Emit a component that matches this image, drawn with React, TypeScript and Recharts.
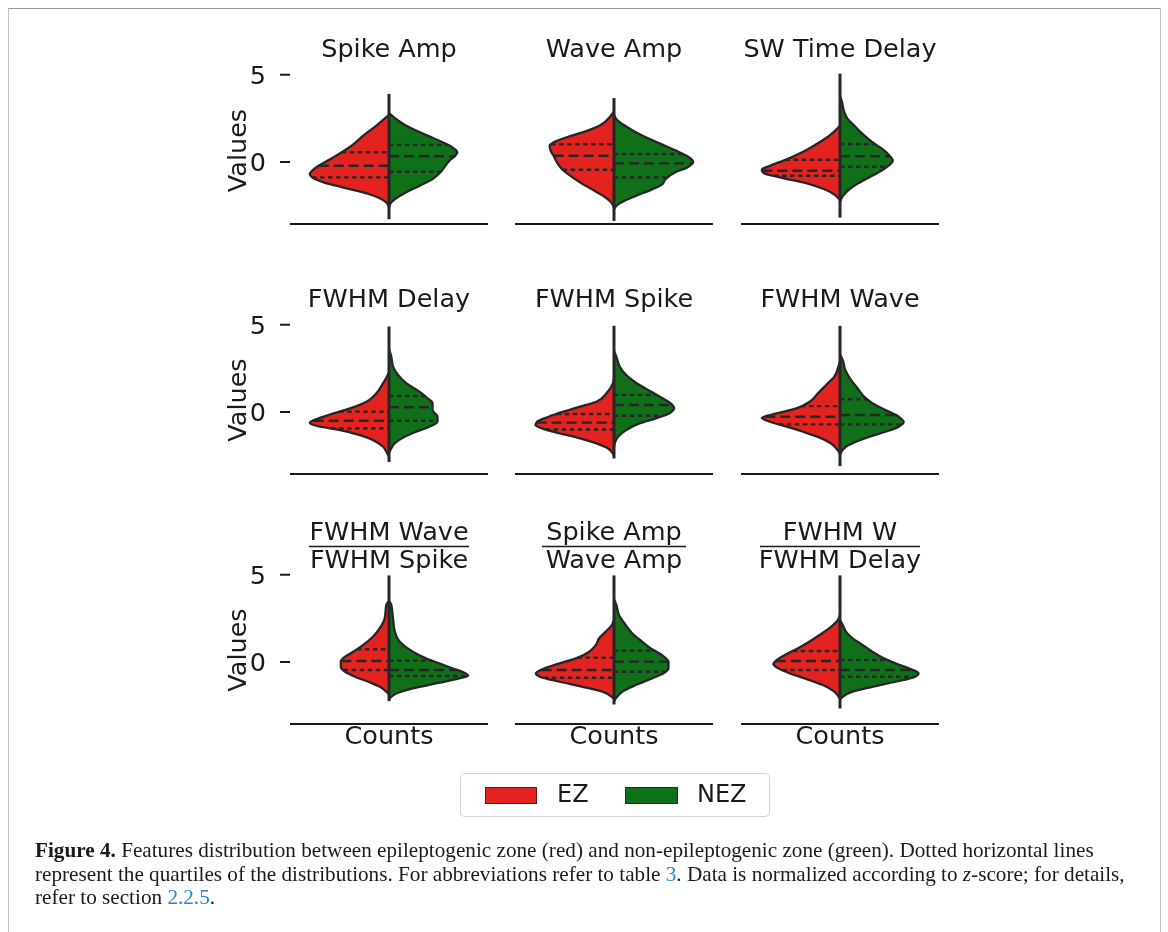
import { useMemo } from "react";
import { ComposedChart, Area, XAxis, YAxis, ReferenceLine } from "recharts";

// [value (z-score), half width of the violin], top to bottom
type Pt = [number, number];

const EZ_COLOR = "#e32320";
const NEZ_COLOR = "#10701a";
const EDGE = "#262626";
const INK = "#1a1a1a";
const FONT = 25.5;

const titleTop = ["Spike Amp", "Wave Amp", "SW Time Delay", "FWHM Delay", "FWHM Spike", "FWHM Wave", "FWHM Wave", "Spike Amp", "FWHM W"];
const titleBottom = ["", "", "", "", "", "", "FWHM Spike", "Wave Amp", "FWHM Delay"];

const spikeAmpEZ: Pt[] = [[2.7, 0], [2.09, 12.7], [1.51, 26], [0.94, 37.7], [0.56, 47.7], [0.17, 59], [-0.21, 71], [-0.5, 77.7], [-0.69, 80], [-0.88, 77.7], [-1.17, 66], [-1.46, 46], [-1.74, 26], [-2.03, 11], [-2.32, 2.7], [-2.6, 0]];
const spikeAmpNEZ: Pt[] = [[2.8, 0], [2.47, 7], [2.09, 17], [1.51, 39], [1.13, 54], [0.84, 64], [0.56, 69], [0.36, 67], [0.08, 61], [-0.21, 57], [-0.59, 52], [-0.98, 44], [-1.36, 31], [-1.74, 17], [-2.13, 6], [-2.41, 1], [-2.6, 0]];
const waveAmpEZ: Pt[] = [[2.9, 0], [2.66, 3], [2.09, 14.3], [1.71, 31], [1.42, 47.7], [1.13, 61], [0.94, 65], [0.65, 64], [0.36, 61], [-0.02, 57.7], [-0.4, 52.7], [-0.79, 44], [-1.17, 34], [-1.55, 22.7], [-1.94, 11], [-2.32, 2.7], [-2.6, 0]];
const waveAmpNEZ: Pt[] = [[2.7, 0], [2.47, 2.3], [2.09, 10.7], [1.71, 22], [1.32, 36], [0.94, 51], [0.56, 66], [0.27, 76], [-0.02, 80], [-0.31, 74], [-0.59, 62], [-0.98, 52], [-1.26, 49], [-1.55, 39], [-1.94, 22], [-2.22, 10.7], [-2.51, 2.3], [-2.7, 0]];
const swDelayEZ: Pt[] = [[2.1, 0], [1.9, 3], [1.51, 10.7], [1.13, 20.7], [0.75, 32], [0.36, 45.7], [0.08, 57], [-0.21, 70.7], [-0.44, 79], [-0.63, 77], [-0.88, 60.7], [-1.17, 37], [-1.46, 20.7], [-1.74, 9], [-2.03, 2.3], [-2.2, 0]];
const swDelayNEZ: Pt[] = [[3.8, 0], [3.43, 2], [2.85, 4.3], [2.47, 7.7], [2.09, 14.3], [1.61, 22.7], [1.13, 32.7], [0.75, 42.7], [0.36, 50], [0.08, 53.3], [-0.21, 49], [-0.59, 39], [-0.98, 26], [-1.36, 14.3], [-1.74, 6], [-2.13, 1], [-2.3, 0]];
const fwhmDelayEZ: Pt[] = [[2.3, 0], [2.03, 2], [1.65, 6], [1.07, 12.7], [0.59, 22.7], [0.21, 39.3], [-0.08, 56], [-0.36, 71], [-0.61, 80], [-0.8, 72.7], [-1.03, 49.3], [-1.32, 29.3], [-1.61, 16], [-1.99, 6], [-2.38, 1.7], [-2.55, 0]];
const fwhmDelayNEZ: Pt[] = [[3.6, 0], [3.18, 2.3], [2.61, 4], [2.13, 9], [1.65, 17.3], [1.17, 30.7], [0.79, 39], [0.5, 44], [0.11, 44], [-0.27, 49], [-0.56, 49], [-0.84, 40.7], [-1.13, 27.3], [-1.42, 15.7], [-1.8, 5.7], [-2.18, 1.3], [-2.35, 0]];
const fwhmSpikeEZ: Pt[] = [[1.9, 0], [1.65, 1], [1.07, 7.7], [0.59, 17.7], [0.31, 34.3], [0.02, 51], [-0.27, 66], [-0.56, 77.7], [-0.75, 79.3], [-0.94, 72.7], [-1.23, 54.3], [-1.51, 34.3], [-1.8, 17.7], [-2.09, 6], [-2.38, 1], [-2.5, 0]];
const fwhmSpikeNEZ: Pt[] = [[3.5, 0], [3.18, 2.3], [2.61, 5.7], [2.03, 14], [1.55, 25.7], [1.17, 37.3], [0.79, 49], [0.5, 57.3], [0.21, 60.7], [-0.08, 55.7], [-0.36, 42.3], [-0.65, 25.7], [-1.03, 12.3], [-1.42, 4], [-1.8, 0.7], [-2.0, 0]];
const fwhmWaveEZ: Pt[] = [[2.9, 0], [2.61, 1.5], [2.03, 5.7], [1.55, 14], [1.07, 22.3], [0.59, 30.7], [0.21, 44], [-0.08, 64], [-0.33, 79], [-0.56, 70.7], [-0.84, 54], [-1.13, 37.3], [-1.42, 22.3], [-1.8, 9], [-2.18, 2.3], [-2.4, 0]];
const fwhmWaveNEZ: Pt[] = [[3.3, 0], [2.99, 2.7], [2.41, 5.3], [1.84, 11], [1.36, 17.7], [0.88, 24.3], [0.5, 32.7], [0.11, 46], [-0.27, 59.3], [-0.56, 64.3], [-0.84, 59.3], [-1.13, 46], [-1.42, 29.3], [-1.7, 16], [-1.99, 6], [-2.28, 1.3], [-2.45, 0]];
const waveSpikeEZ: Pt[] = [[3.5, 0], [3.28, 2.7], [2.51, 4.3], [1.94, 9.3], [1.46, 16], [0.98, 26], [0.59, 36], [0.31, 44.3], [0.02, 48.7], [-0.27, 48.7], [-0.56, 44.3], [-0.84, 34.3], [-1.13, 21], [-1.42, 9.3], [-1.7, 2.7], [-1.85, 0]];
const waveSpikeNEZ: Pt[] = [[3.5, 0], [3.28, 2.3], [2.51, 4], [1.8, 5.7], [1.17, 10.7], [0.59, 24], [0.21, 37.3], [-0.08, 50.7], [-0.36, 64], [-0.65, 77.3], [-0.79, 80], [-0.94, 70.7], [-1.23, 47.3], [-1.51, 24], [-1.8, 7.3], [-2.05, 1.3], [-2.15, 0]];
const ampRatioEZ: Pt[] = [[2.4, 0], [2.13, 2], [1.74, 8.3], [1.36, 15], [0.98, 18.3], [0.59, 25], [0.21, 38.3], [-0.08, 55], [-0.36, 70], [-0.65, 79], [-0.84, 75], [-1.13, 55], [-1.42, 31.7], [-1.7, 11.7], [-1.99, 2.3], [-2.1, 0]];
const ampRatioNEZ: Pt[] = [[3.6, 0], [3.28, 2.3], [2.7, 5], [2.13, 11.7], [1.65, 18.3], [1.17, 28.3], [0.79, 36.7], [0.4, 48.3], [0.02, 55], [-0.36, 55], [-0.65, 50], [-0.94, 38.3], [-1.32, 21.7], [-1.7, 8.3], [-2.09, 1.7], [-2.25, 0]];
const waveDelayEZ: Pt[] = [[2.7, 0], [2.41, 2], [1.94, 10.7], [1.55, 20.7], [1.17, 30.7], [0.79, 42.3], [0.4, 55.7], [0.11, 64], [-0.13, 67.3], [-0.36, 62.3], [-0.65, 50.7], [-0.94, 35.7], [-1.32, 17.3], [-1.7, 5.7], [-1.99, 1.3], [-2.1, 0]];
const waveDelayNEZ: Pt[] = [[2.4, 0], [2.13, 2.7], [1.74, 6], [1.36, 12.7], [0.98, 22.7], [0.59, 32.7], [0.21, 44.3], [-0.08, 56], [-0.36, 69.3], [-0.65, 79.3], [-0.84, 76], [-1.13, 56], [-1.42, 32.7], [-1.7, 12.7], [-1.99, 2.7], [-2.15, 0]];

const ezShapes = [spikeAmpEZ, waveAmpEZ, swDelayEZ, fwhmDelayEZ, fwhmSpikeEZ, fwhmWaveEZ, waveSpikeEZ, ampRatioEZ, waveDelayEZ];
const nezShapes = [spikeAmpNEZ, waveAmpNEZ, swDelayNEZ, fwhmDelayNEZ, fwhmSpikeNEZ, fwhmWaveNEZ, waveSpikeNEZ, ampRatioNEZ, waveDelayNEZ];

// quartiles [Q3, median, Q1]
const ezQuartiles = [[0.56, -0.21, -0.88], [1.01, 0.36, -0.44], [0.13, -0.5, -0.79], [0.02, -0.5, -0.94], [-0.11, -0.61, -1.0], [0.34, -0.27, -0.71], [0.73, 0.06, -0.46], [0.25, -0.46, -0.9], [0.63, 0.06, -0.46]];
const nezQuartiles = [[0.98, 0.33, -0.56], [0.46, -0.08, -0.88], [1.03, 0.33, -0.27], [0.92, 0.27, -0.5], [0.98, 0.4, -0.21], [0.73, -0.17, -0.71], [0.08, -0.46, -0.8], [0.65, 0.02, -0.56], [0.11, -0.46, -0.84]];
// [min, max] of the pooled data (violin tails)
const tails = [[-3.28, 3.9], [-3.37, 3.66], [-3.18, 5.06], [-2.86, 4.9], [-2.66, 4.94], [-3.1, 4.94], [-2.24, 4.96], [-2.43, 4.96], [-2.66, 4.96]];

const yTicks = [0, 5];
const Y_DOMAIN: [number, number] = [-3.55, 5.5];
const PLOT_H = 158;
const PX_PER_UNIT = PLOT_H / (Y_DOMAIN[1] - Y_DOMAIN[0]);
const ROW_ZERO = [162.5, 412, 662];
const PLOT_LEFT = [290, 515, 741];
const PLOT_W = 198;
const LEFT_PAD = 62;
const TOP_PAD = 10;

const plotTop = (row: number) => ROW_ZERO[row] - Y_DOMAIN[1] * PX_PER_UNIT;

function buildRows(ez: Pt[], nez: Pt[]) {
  const map = new Map<number, { v: number; ez?: number; nez?: number }>();
  ez.forEach(([v, w]) => {
    const r = map.get(v) ?? { v };
    r.ez = -w;
    map.set(v, r);
  });
  nez.forEach(([v, w]) => {
    const r = map.get(v) ?? { v };
    r.nez = w;
    map.set(v, r);
  });
  return [...map.values()].sort((a, b) => b.v - a.v);
}

// width of the outline at a quartile value
function widthAt(pts: Pt[], v: number) {
  for (let k = 0; k < pts.length - 1; k++) {
    const [v0, w0] = pts[k];
    const [v1, w1] = pts[k + 1];
    if (v <= v0 && v >= v1) return w0 + ((v0 - v) / (v0 - v1)) * (w1 - w0);
  }
  return 0;
}

function Violin({ i }: { i: number }) {
  const col = i % 3;
  const row = Math.floor(i / 3);
  const rows = useMemo(() => buildRows(ezShapes[i], nezShapes[i]), [i]);
  const ez = ezShapes[i];
  const nez = nezShapes[i];

  return (
    <div style={{ position: "absolute", left: PLOT_LEFT[col] - LEFT_PAD - 8, top: plotTop(row) - TOP_PAD - 8 }}>
      <ComposedChart
        layout="vertical"
        width={LEFT_PAD + PLOT_W + 10}
        height={TOP_PAD + PLOT_H + 8}
        data={rows}
        margin={{ top: TOP_PAD, right: 10, bottom: 4, left: col === 0 ? 2 : LEFT_PAD }}
      >
        <XAxis
          type="number"
          domain={[-100, 100]}
          allowDataOverflow
          tick={false}
          tickLine={false}
          height={4}
          axisLine={{ stroke: INK, strokeWidth: 2 }}
        />
        <YAxis
          type="number"
          dataKey="v"
          domain={Y_DOMAIN}
          allowDataOverflow
          reversed
          ticks={yTicks}
          hide={col !== 0}
          width={60}
          axisLine={false}
          tickSize={10}
          tickMargin={14}
          tickLine={{ stroke: INK, strokeWidth: 2 }}
          tick={{ fontSize: FONT, fill: INK, fontFamily: "DejaVu Sans" }}
        />
        <Area dataKey="ez" type="monotone" connectNulls baseValue={0} fill={EZ_COLOR} fillOpacity={1} stroke={EDGE} strokeWidth={2.3} isAnimationActive={false} />
        <Area dataKey="nez" type="monotone" connectNulls baseValue={0} fill={NEZ_COLOR} fillOpacity={1} stroke={EDGE} strokeWidth={2.3} isAnimationActive={false} />
        {ezQuartiles[i].map((q, k) => (
          <ReferenceLine
            key={"ez" + k}
            segment={[{ x: -widthAt(ez, q), y: q }, { x: 0, y: q }]}
            stroke={EDGE}
            strokeWidth={2.4}
            strokeDasharray={k === 1 ? "10 5" : "4.5 3.5"}
          />
        ))}
        {nezQuartiles[i].map((q, k) => (
          <ReferenceLine
            key={"nez" + k}
            segment={[{ x: 0, y: q }, { x: widthAt(nez, q), y: q }]}
            stroke={EDGE}
            strokeWidth={2.4}
            strokeDasharray={k === 1 ? "10 5" : "4.5 3.5"}
          />
        ))}
        <ReferenceLine segment={[{ x: 0, y: tails[i][0] }, { x: 0, y: tails[i][1] }]} stroke={EDGE} strokeWidth={3} />
      </ComposedChart>
    </div>
  );
}

const COL_CENTER = PLOT_LEFT.map((l) => l + PLOT_W / 2);
const TITLE_BASE = [57, 307];

function Labels() {
  return (
    <svg width={1152} height={760} style={{ position: "absolute", left: 0, top: 0, pointerEvents: "none" }}>
      <g fontFamily="DejaVu Sans" fontSize={FONT} fill={INK}>
        {titleTop.map((t, i) => {
          const col = i % 3;
          const row = Math.floor(i / 3);
          const cx = COL_CENTER[col] - 8;
          if (!titleBottom[i]) {
            return (
              <text key={i} x={cx} y={TITLE_BASE[row] - 8} textAnchor="middle">
                {t}
              </text>
            );
          }
          const half = (Math.max(t.length, titleBottom[i].length) * 16) / 2;
          return (
            <g key={i}>
              <text x={cx} y={540 - 8} textAnchor="middle">{t}</text>
              <line x1={cx - half} x2={cx + half} y1={546.5 - 8} y2={546.5 - 8} stroke={INK} strokeWidth={1.6} />
              <text x={cx} y={568 - 8} textAnchor="middle">{titleBottom[i]}</text>
            </g>
          );
        })}
        {ROW_ZERO.map((z, r) => (
          <text key={"v" + r} x={246 - 8} y={z - 12 - 8} textAnchor="middle" transform={`rotate(-90 ${246 - 8} ${z - 12 - 8})`}>
            Values
          </text>
        ))}
        {COL_CENTER.map((c, k) => (
          <text key={"c" + k} x={c - 8} y={744 - 8} textAnchor="middle">
            Counts
          </text>
        ))}
      </g>
    </svg>
  );
}

function LegendBox() {
  const label = { position: "absolute" as const, top: 0, height: 41, lineHeight: "41px", fontSize: 24, color: INK };
  return (
    <div
      style={{
        position: "absolute",
        left: 452,
        top: 765,
        width: 310,
        height: 44,
        border: "1.5px solid #d2d2d2",
        borderRadius: 5,
        boxSizing: "border-box",
        fontFamily: "DejaVu Sans",
      }}
    >
      <div style={{ position: "absolute", left: 24, top: 12.5, width: 52, height: 17, background: EZ_COLOR, border: "1px solid #5a1a1a", boxSizing: "border-box" }} />
      <div style={{ ...label, left: 96 }}>EZ</div>
      <div style={{ position: "absolute", left: 163.5, top: 12.5, width: 53, height: 17, background: NEZ_COLOR, border: "1px solid #0d3a0d", boxSizing: "border-box" }} />
      <div style={{ ...label, left: 236 }}>NEZ</div>
    </div>
  );
}

function Caption() {
  const link = { color: "#2189c8" };
  return (
    <div
      style={{
        position: "absolute",
        left: 27,
        top: 831,
        fontFamily: "Liberation Serif",
        fontSize: 21.2,
        lineHeight: "23.5px",
        color: INK,
        whiteSpace: "nowrap",
      }}
    >
      <b>Figure 4.</b> Features distribution between epileptogenic zone (red) and non-epileptogenic zone (green). Dotted horizontal lines
      <br />
      represent the quartiles of the distributions. For abbreviations refer to table <span style={link}>3</span>. Data is normalized according to{" "}
      <i>z</i>-score; for details,
      <br />
      refer to section <span style={link}>2.2.5</span>.
    </div>
  );
}

export default function App() {
  return (
    <>
      <div
        style={{
          position: "fixed",
          left: 8,
          top: 8,
          width: 1153,
          height: 1000,
          borderTop: "1px solid #9a9a9a",
          borderLeft: "1px solid #c4c4c4",
          borderRight: "1px solid #c4c4c4",
          boxSizing: "border-box",
          pointerEvents: "none",
        }}
      />
      <div style={{ position: "relative", width: 1152, height: 900, fontFamily: "DejaVu Sans" }}>
        {titleTop.map((_, i) => (
          <Violin key={i} i={i} />
        ))}
        <Labels />
        <LegendBox />
        <Caption />
      </div>
    </>
  );
}
